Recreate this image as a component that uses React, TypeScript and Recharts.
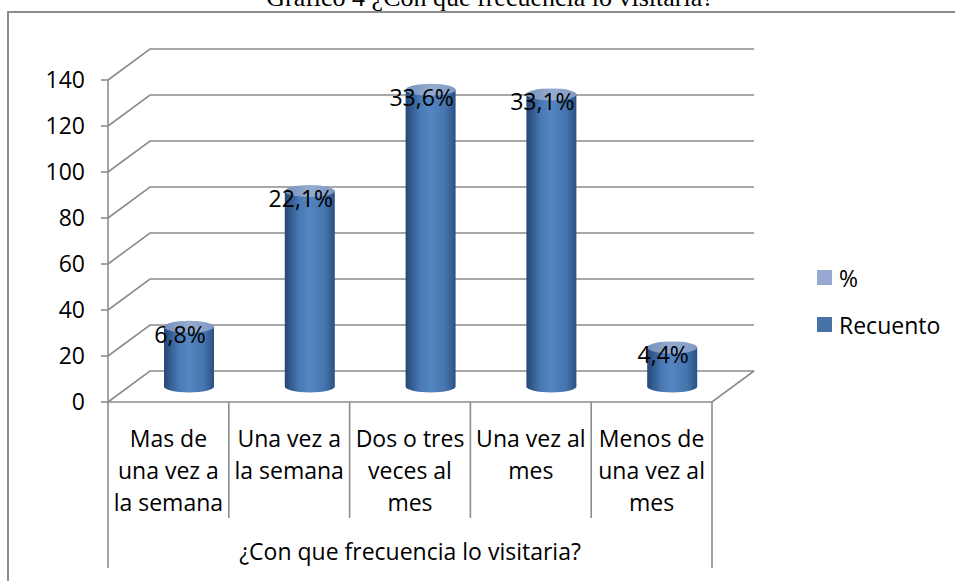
import { Bar, BarChart, CartesianGrid, LabelList, Legend, ReferenceLine, XAxis, YAxis } from "recharts";

const categories = [
  "Mas de\nuna vez a\nla semana",
  "Una vez a\nla semana",
  "Dos o tres\nveces al\nmes",
  "Una vez al\nmes",
  "Menos de\nuna vez al\nmes",
];
const recuento = [26, 85, 129, 127, 17];
const pct = [6.8, 22.1, 33.6, 33.1, 4.4];
const yTicks = [0, 20, 40, 60, 80, 100, 120, 140];
const seriesNames = ["%", "Recuento"];
const seriesColors = ["#95A9D1", "#4672A8"];
const axisTitle = "¿Con que frecuencia lo visitaria?";
const chartTitle = "Gráfico 4 ¿Con que frecuencia lo visitaria?";

const data = categories.map((name, i) => ({ name, recuento: recuento[i], pct: pct[i] }));

const FONT = "'Open Sans', sans-serif";
const GRID = "#8c8c8c";
const W = 955;
const H = 581;
const PLOT_LEFT = 108;
const PLOT_RIGHT = 712;
const FLOOR_Y = 402;
const BAND = (PLOT_RIGHT - PLOT_LEFT) / categories.length;
// 3d depth of the back wall, bars sit half way
const DX = 42;
const DY = 31;

function gridLine(props: any) {
  const { x1, x2, y1 } = props;
  return (
    <path
      key={props.key}
      d={`M${x1},${y1} L${x1 + DX},${y1 - DY} L${x2 + DX},${y1 - DY}`}
      fill="none"
      stroke={GRID}
      strokeWidth={1.6}
    />
  );
}

function floorFront(props: any) {
  const { x1, x2, y1 } = props;
  return (
    <path
      d={`M${x1},${y1} L${x2},${y1} L${x2 + DX},${y1 - DY}`}
      fill="none"
      stroke={GRID}
      strokeWidth={1.6}
    />
  );
}

function Cylinder(props: any) {
  const { x, y, width, height } = props;
  if (height == null) return null;
  const rx = width / 2;
  const cx = x + rx + DX / 2;
  const ry = 6;
  const top = y - DY / 2;
  const bottom = y + height - DY / 2;
  return (
    <g>
      <path
        d={`M${cx - rx},${top} L${cx - rx},${bottom} A${rx},${ry} 0 0 0 ${cx + rx},${bottom} L${cx + rx},${top} Z`}
        fill="url(#cylBody)"
      />
      <ellipse cx={cx} cy={top} rx={rx} ry={ry} fill="url(#cylTop)" />
    </g>
  );
}

function PctLabel(props: any) {
  const { x, y, width, value } = props;
  const cx = x + width / 2 + DX / 2 - 9;
  return (
    <text
      x={cx}
      y={y - DY / 2 + 7}
      textAnchor="middle"
      dominantBaseline="central"
      fontFamily={FONT}
      fontSize={23}
      fill="#000"
    >
      {Number(value).toFixed(1).replace(".", ",")}%
    </text>
  );
}

function CategoryTick(props: any) {
  const { x, index, payload } = props;
  const lines: string[] = String(payload.value).split("\n");
  const half = BAND / 2;
  const last = index === categories.length - 1;
  return (
    <g>
      <line x1={x - half} x2={x - half} y1={FLOOR_Y} y2={index === 0 ? 568 : 518} stroke={GRID} strokeWidth={1.6} />
      {last && <line x1={x + half} x2={x + half} y1={FLOOR_Y} y2={568} stroke={GRID} strokeWidth={1.6} />}
      <text textAnchor="middle" fontFamily={FONT} fontSize={23} fill="#000">
        {lines.map((l, i) => (
          <tspan key={i} x={x} y={FLOOR_Y + 36 + i * 32} dominantBaseline="central">
            {l}
          </tspan>
        ))}
      </text>
    </g>
  );
}

function AxisTitle(props: any) {
  const { viewBox } = props;
  return (
    <text
      x={viewBox.x + viewBox.width / 2}
      y={FLOOR_Y + 149}
      textAnchor="middle"
      dominantBaseline="central"
      fontFamily={FONT}
      fontSize={23}
      fill="#000"
    >
      {axisTitle}
    </text>
  );
}

function LegendBox() {
  return (
    <div style={{ fontFamily: FONT, fontSize: 23, color: "#000" }}>
      {seriesNames.map((n, i) => (
        <div key={n} style={{ display: "flex", alignItems: "center", height: 47 }}>
          <span style={{ width: 15, height: 15, background: seriesColors[i], marginRight: 7, display: "inline-block" }} />
          {n}
        </div>
      ))}
    </div>
  );
}

export default function App() {
  return (
    <div style={{ position: "absolute", left: 0, top: 0, width: W, height: H, overflow: "hidden", background: "#fff" }}>
      <div
        style={{
          position: "absolute",
          left: 0,
          top: -15,
          width: 980,
          textAlign: "center",
          fontFamily: "'Liberation Serif', serif",
          fontSize: 26,
          lineHeight: "26px",
          whiteSpace: "nowrap",
        }}
      >
        {chartTitle}
      </div>
      <div
        style={{
          position: "absolute",
          left: 7,
          top: 11,
          width: 1000,
          height: 700,
          border: `2px solid ${GRID}`,
        }}
      />
      <div style={{ position: "absolute", left: 0, top: 0 }}>
        <BarChart
          width={W}
          height={H}
          data={data}
          margin={{ top: 80, right: W - PLOT_RIGHT, left: 0, bottom: 0 }}
          barSize={50}
        >
          <defs>
            <linearGradient id="cylBody" x1="0" y1="0" x2="1" y2="0">
              <stop offset="0%" stopColor="#244775" />
              <stop offset="30%" stopColor="#4a7ab6" />
              <stop offset="50%" stopColor="#5486c2" />
              <stop offset="80%" stopColor="#4574ad" />
              <stop offset="100%" stopColor="#2b5183" />
            </linearGradient>
            <linearGradient id="cylTop" x1="0" y1="0" x2="1" y2="0">
              <stop offset="0%" stopColor="#7791bb" />
              <stop offset="50%" stopColor="#94abcf" />
              <stop offset="100%" stopColor="#8199c2" />
            </linearGradient>
          </defs>
          <CartesianGrid horizontal={gridLine} vertical={false} />
          <ReferenceLine y={0} shape={floorFront} />
          <XAxis
            dataKey="name"
            interval={0}
            height={581 - FLOOR_Y}
            tickLine={false}
            axisLine={false}
            tick={<CategoryTick />}
            label={{ content: <AxisTitle /> }}
          />
          <YAxis
            width={PLOT_LEFT}
            domain={[0, 140]}
            ticks={yTicks}
            interval={0}
            tickSize={7}
            tickMargin={16}
            axisLine={{ stroke: GRID, strokeWidth: 1.6 }}
            tickLine={{ stroke: GRID, strokeWidth: 1.6 }}
            tick={{ fontFamily: FONT, fontSize: 23, fill: "#000" }}
          />
          <Legend
            layout="vertical"
            align="center"
            verticalAlign="middle"
            wrapperStyle={{ left: 817, top: 254, width: 130 }}
            content={<LegendBox />}
          />
          <Bar dataKey="recuento" name="Recuento" fill={seriesColors[1]} shape={<Cylinder />} isAnimationActive={false}>
            <LabelList dataKey="pct" content={<PctLabel />} />
          </Bar>
        </BarChart>
      </div>
    </div>
  );
}
